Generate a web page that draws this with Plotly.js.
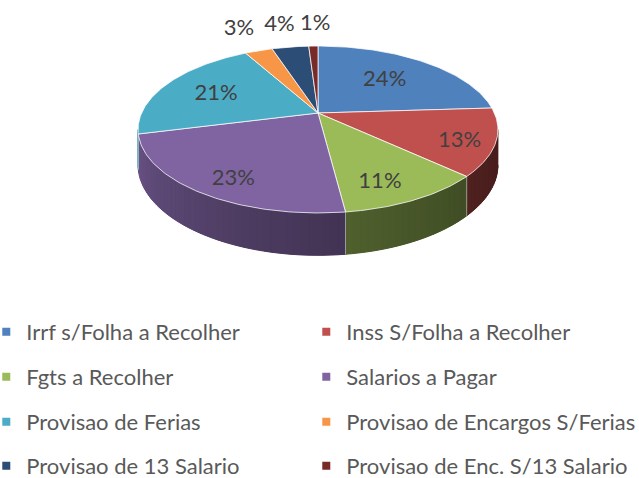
<!DOCTYPE html>
<html>
<head>
<meta charset="utf-8">
<script src="https://cdn.plot.ly/plotly-3.0.1.min.js"></script>
<style>html,body{margin:0;padding:0;background:#fff;}#chart{width:639px;height:478px;}</style>
</head>
<body>
<div id="chart"></div>
<script>
// ---- data ----
const labels = ["Irrf s/Folha a Recolher", "Inss S/Folha a Recolher", "Fgts a Recolher", "Salarios a Pagar",
                "Provisao de Ferias", "Provisao de Encargos S/Ferias", "Provisao de 13 Salario", "Provisao de Enc. S/13 Salario"];
const values = [24, 13, 11, 23, 21, 3, 4, 1];
const colors = ["#4F81BD", "#C0504D", "#9BBB59", "#8064A2", "#4BACC6", "#F79646", "#2C4D75", "#772C2A"];

// ---- layout constants (geometry of the tilted pie) ----
const W = 639, H = 478;
const cx = 318, cy = 113, A = 176.4, B = 80.2, P = 0.1976, D = 34;
const labelRadius = [0.6, 0.82, 0.8, 0.82, 0.65, 1.42, 1.42, 1.42];
const labelAngleShift = [0, 4, 5, -4, -2, 0, -0.5, 1];
const FONT = "Lato, 'Open Sans', sans-serif";

function proj(r, deg, z) {
  const t = deg * Math.PI / 180;
  const u = r * Math.sin(t), v = r * Math.cos(t);
  const w = 1 + P * v;
  return [cx + A * u / w, cy - B * v / w + D * z / w];
}
function hexRgb(h) { return [1,3,5].map(i => parseInt(h.substr(i,2),16)); }
function darken(h, f) { const c = hexRgb(h).map(x => Math.round(x * f)); return `rgb(${c[0]},${c[1]},${c[2]})`; }
function shade(deg) {
  const t = Math.max(0, Math.min(1, (deg - 101.4) / 157.2));
  return 0.37 + 0.47 * Math.pow(t, 1.5);
}
function sidePoly(s, e, steps) {
  const xs = [], ys = [];
  for (let j = 0; j <= steps; j++) { const p = proj(1, s + (e - s) * j / steps, 0); xs.push(p[0]); ys.push(p[1]); }
  for (let j = steps; j >= 0; j--) { const p = proj(1, s + (e - s) * j / steps, 1); xs.push(p[0]); ys.push(p[1]); }
  return [xs, ys];
}

const total = values.reduce((a, b) => a + b, 0);
const cum = [0];
values.forEach(v => cum.push(cum[cum.length - 1] + v / total * 360));

const traces = [];
const visA = 101.4, visB = 258.6;

// sides (front wall): base polygon then shaded strips
values.forEach((v, i) => {
  const a = Math.max(cum[i], visA), b = Math.min(cum[i + 1], visB);
  if (b <= a) return;
  const base = sidePoly(a, b, Math.max(2, Math.ceil(b - a)));
  const bcol = darken(colors[i], shade((a + b) / 2));
  traces.push({type: 'scatter', x: base[0], y: base[1], mode: 'lines', fill: 'toself', fillcolor: bcol,
    line: {color: bcol, width: 0}, hoverinfo: 'skip', showlegend: false});
  const n = Math.max(1, Math.ceil((b - a) / 2));
  for (let k = 0; k < n; k++) {
    const s = a + (b - a) * k / n, e = a + (b - a) * (k + 1) / n;
    const poly = sidePoly(s, e, 3);
    const col = darken(colors[i], shade((s + e) / 2));
    traces.push({type: 'scatter', x: poly[0], y: poly[1], mode: 'lines', fill: 'toself', fillcolor: col,
      line: {color: col, width: 1}, hoverinfo: 'skip', showlegend: false});
  }
});
// side dividers
for (let i = 1; i < cum.length - 1; i++) {
  const d = cum[i];
  if (d > visA && d < visB) {
    const p0 = proj(1, d, 0), p1 = proj(1, d, 1);
    traces.push({type: 'scatter', x: [p0[0], p1[0]], y: [p0[1], p1[1]], mode: 'lines',
      line: {color: 'rgba(255,255,255,0.45)', width: 1}, hoverinfo: 'skip', showlegend: false});
  }
}
// top faces
values.forEach((v, i) => {
  const a = cum[i], b = cum[i + 1];
  const xs = [cx], ys = [cy];
  const n = Math.max(2, Math.ceil(b - a));
  for (let j = 0; j <= n; j++) { const p = proj(1, a + (b - a) * j / n, 0); xs.push(p[0]); ys.push(p[1]); }
  xs.push(cx); ys.push(cy);
  traces.push({type: 'scatter', x: xs, y: ys, mode: 'lines', fill: 'toself', fillcolor: colors[i],
    line: {color: 'rgba(255,255,255,0.75)', width: 1}, hoverinfo: 'skip', showlegend: false});
});
// percent labels
const lx = [], ly = [], lt = [];
values.forEach((v, i) => {
  const mid = (cum[i] + cum[i + 1]) / 2 + labelAngleShift[i];
  const p = proj(labelRadius[i], mid, 0);
  lx.push(p[0]); ly.push(p[1]); lt.push(Math.round(v / total * 100) + '%');
});
traces.push({type: 'scatter', x: lx, y: ly, text: lt, mode: 'text', textposition: 'middle center',
  textfont: {family: FONT, size: 22, color: '#404040'}, hoverinfo: 'skip', showlegend: false, cliponaxis: false});

// legend entries: one legend per entry, 2 columns x 4 rows
const rowsPx = [332, 377, 422, 466];
const colsPx = [-13.7, 306.3];
const layout = {
  width: W, height: H, margin: {l: 0, r: 0, t: 0, b: 0, autoexpand: false},
  paper_bgcolor: '#fff', plot_bgcolor: '#fff', showlegend: true,
  xaxis: {range: [0, W], visible: false, fixedrange: true},
  yaxis: {range: [H, 0], visible: false, fixedrange: true},
};
labels.forEach((lab, i) => {
  const key = i === 0 ? 'legend' : 'legend' + (i + 1);
  const r = Math.floor(i / 2), c = i % 2;
  layout[key] = {orientation: 'v', x: colsPx[c] / W, xanchor: 'left', y: 1 - rowsPx[r] / H, yanchor: 'middle',
    bgcolor: 'rgba(0,0,0,0)', borderwidth: 0,
    font: {family: FONT, size: 22, color: '#595959'}, itemclick: false, itemdoubleclick: false};
  traces.push({type: 'scatter', x: [null], y: [null], mode: 'markers', name: lab,
    marker: {symbol: 'square', size: 8, color: colors[i]},
    legend: key, showlegend: true, hoverinfo: 'skip'});
});

Plotly.newPlot('chart', traces, layout, {displayModeBar: false, staticPlot: true});
</script>
</body>
</html>
